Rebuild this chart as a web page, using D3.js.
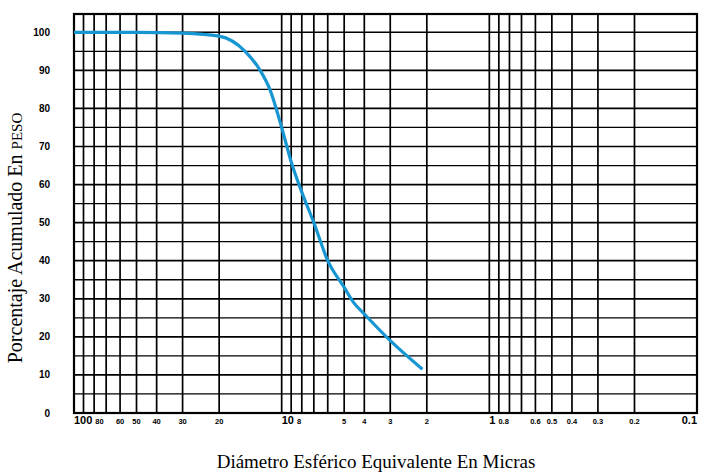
<!DOCTYPE html>
<html lang="es">
<head>
<meta charset="UTF-8">
<title>Distribución granulométrica</title>
<script src="https://d3js.org/d3.v7.min.js"></script>
<style>
  body { margin: 0; background: #fff; }
  .grid line { stroke: #000; }
  .lbl { font-family: "Liberation Sans", Arial, sans-serif; font-weight: bold; fill: #000; }
  .title { font-family: "Liberation Serif", "Times New Roman", serif; fill: #000; }
</style>
</head>
<body>
<svg width="704" height="473"></svg>
<script>
// diámetro (micras) y porcentaje acumulado
const diametros = [100, 50, 30, 20, 15, 12.7, 11.4, 10, 9, 8, 7, 6, 5, 4.5, 4, 3, 2.1];
const porcentajes = [100, 100, 99.8, 99, 95, 90, 85, 75, 66, 58, 50, 40, 33, 29, 26, 19, 11.5];

// rejilla vertical
const xGrid = [100, 90, 80, 70, 60, 50, 40, 30, 20, 10, 9, 8, 7, 6, 5, 4, 3, 2, 1,
  0.9, 0.8, 0.7, 0.6, 0.5, 0.4, 0.3, 0.2, 0.1];
const xLabels = ["100", "80", "60", "50", "40", "30", "20", "10", "8", "5", "4", "3", "2",
  "1", "0.8", "0.6", "0.5", "0.4", "0.3", "0.2", "0.1"];
const bigLabels = ["100", "10", "1", "0.1"];
const yTicks = [0, 10, 20, 30, 40, 50, 60, 70, 80, 90, 100];

const svg = d3.select("svg");
const mLeft = 74, mRight = 697, mTop = 14, mBottom = 413;

const x = d3.scaleLog().domain([100, 0.1]).range([mLeft, mRight]);
const y = d3.scaleLinear().domain([0, 104.8]).range([mBottom, mTop]);

const grid = svg.append("g").attr("class", "grid");

// horizontales cada 5 %
grid.selectAll(".h").data(d3.range(5, 101, 5)).enter().append("line")
  .attr("x1", mLeft).attr("x2", mRight)
  .attr("y1", d => y(d)).attr("y2", d => y(d))
  .attr("stroke-width", d => d % 10 === 0 ? 1.7 : 1.3);

grid.selectAll(".v").data(xGrid).enter().append("line")
  .attr("x1", d => x(d)).attr("x2", d => x(d))
  .attr("y1", mTop).attr("y2", mBottom)
  .attr("stroke-width", 1.7);

// marco
svg.append("rect")
  .attr("x", mLeft).attr("y", mTop)
  .attr("width", mRight - mLeft).attr("height", mBottom - mTop)
  .attr("fill", "none").attr("stroke", "#000").attr("stroke-width", 2.2);

// curva
const line = d3.line()
  .x((d, i) => x(diametros[i]))
  .y((d, i) => y(porcentajes[i]))
  .curve(d3.curveMonotoneX);

svg.append("path")
  .datum(diametros)
  .attr("d", line)
  .attr("fill", "none")
  .attr("stroke", "#1896d2")
  .attr("stroke-width", 3.2)
  .attr("stroke-linejoin", "round");

// etiquetas eje y
svg.selectAll(".ylbl").data(yTicks).enter().append("text")
  .attr("class", "lbl")
  .attr("x", 50).attr("y", d => y(d) + 3.5)
  .attr("text-anchor", "end")
  .attr("font-size", 10)
  .text(d => d);

// etiquetas eje x
const xl = svg.selectAll(".xlbl").data(xLabels).enter().append("text")
  .attr("class", "lbl")
  .attr("x", d => x(+d))
  .attr("y", 424)
  .attr("text-anchor", d => d === "0.1" ? "end" : (bigLabels.includes(d) ? "start" : "middle"))
  .attr("font-size", d => bigLabels.includes(d) ? 11 : 7.5)
  .text(d => d);

// la etiqueta que sigue a 100, 10 y 1 va justo detrás de ella
xl.each(function (d, i) {
  const prev = xLabels[i - 1];
  if (i > 0 && bigLabels.includes(prev)) {
    const box = xl.nodes()[i - 1].getBBox();
    d3.select(this).attr("text-anchor", "start").attr("x", box.x + box.width + 3);
  }
});

// títulos
svg.append("text")
  .attr("class", "title")
  .attr("x", 376).attr("y", 468)
  .attr("text-anchor", "middle")
  .attr("font-size", 19)
  .text("Diámetro Esférico Equivalente En Micras");

const yt = svg.append("text")
  .attr("class", "title")
  .attr("transform", "translate(22,238) rotate(-90)")
  .attr("text-anchor", "middle")
  .attr("font-size", 20);
yt.append("tspan").text("Porcentaje Acumulado En ");
yt.append("tspan").attr("font-size", 15).text("PESO");
</script>
</body>
</html>
